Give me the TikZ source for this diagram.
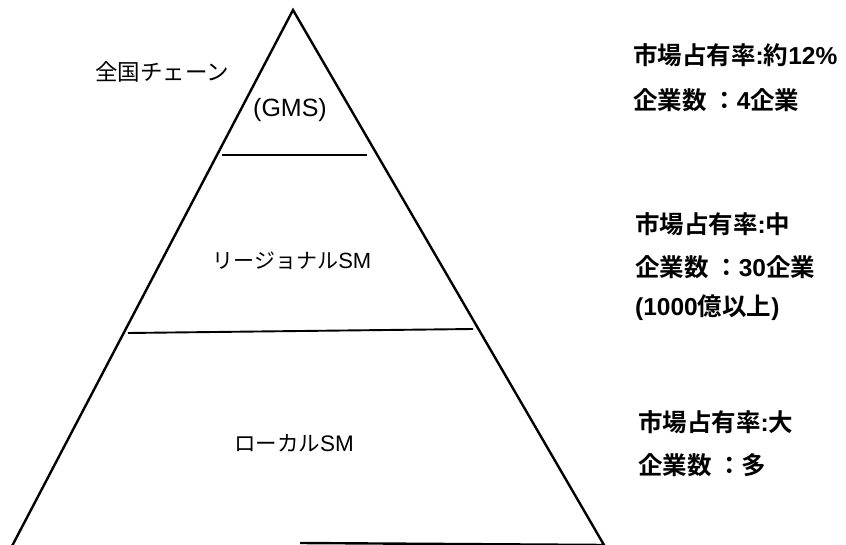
\documentclass[tikz,border=0pt]{standalone}
\usepackage{fontspec}
\newfontfamily\jp{Noto Sans CJK JP}
\newfontfamily\jpb{Noto Sans CJK JP Bold}
\newfontfamily\lat{Liberation Sans}
\newfontfamily\latb{Liberation Sans Bold}
\newcommand\nb[1]{{\latb #1}}
\tikzset{
  edge/.style={line width=2.4pt, line join=miter},
  divider/.style={line width=1.9pt},
  label/.style={font=\jp\fontsize{22.5}{26}\selectfont, inner sep=0pt},
  info/.style={font=\jpb\fontsize{24.5}{28}\selectfont, inner sep=0pt, anchor=west},
}
\begin{document}
\begin{tikzpicture}[x=1pt,y=-1pt]
\useasboundingbox (0,0) rectangle (846,545);
\coordinate (apex) at (293,10);
\coordinate (bl) at (11,548);
\coordinate (br) at (604,545);
\coordinate (bm) at (300,543);
\draw[edge] (bl) -- (apex) -- (br) -- (bm);
\coordinate (d1l) at (222,155);
\coordinate (d1r) at (367,155);
\coordinate (d2l) at (128,333);
\coordinate (d2r) at (473,329);
\draw[divider] (d1l) -- (d1r);
\draw[divider] (d2l) -- (d2r);
\node[label] (chain) at (162,72) {全国チェーン};
\node[label] (gms) at (290,110) {\lat\fontsize{25}{28}\selectfont (GMS)};
\node[label,font=\jp\fontsize{21}{24}\selectfont] (reg) at (292,261) {リージョナル{\lat\fontsize{22}{26}\selectfont SM}};
\node[label,font=\jp\fontsize{21.5}{24}\selectfont] (loc) at (294,443) {ローカル{\lat\fontsize{22.5}{26}\selectfont SM}};
\node[info] (a1) at (633,55) {市場占有率\nb{:}約\nb{12\%}};
\node[info] (a2) at (633,100) {企業数 ：\nb{4}企業};
\node[info] (b1) at (635,224) {市場占有率\nb{:}中};
\node[info] (b2) at (635,267) {企業数 ：\nb{30}企業};
\node[info] (b3) at (635,308) {\nb{(1000}億以上\nb{)}};
\node[info] (c1) at (638,422) {市場占有率\nb{:}大};
\node[info] (c2) at (638,465) {企業数 ：多};
\end{tikzpicture}
\end{document}
